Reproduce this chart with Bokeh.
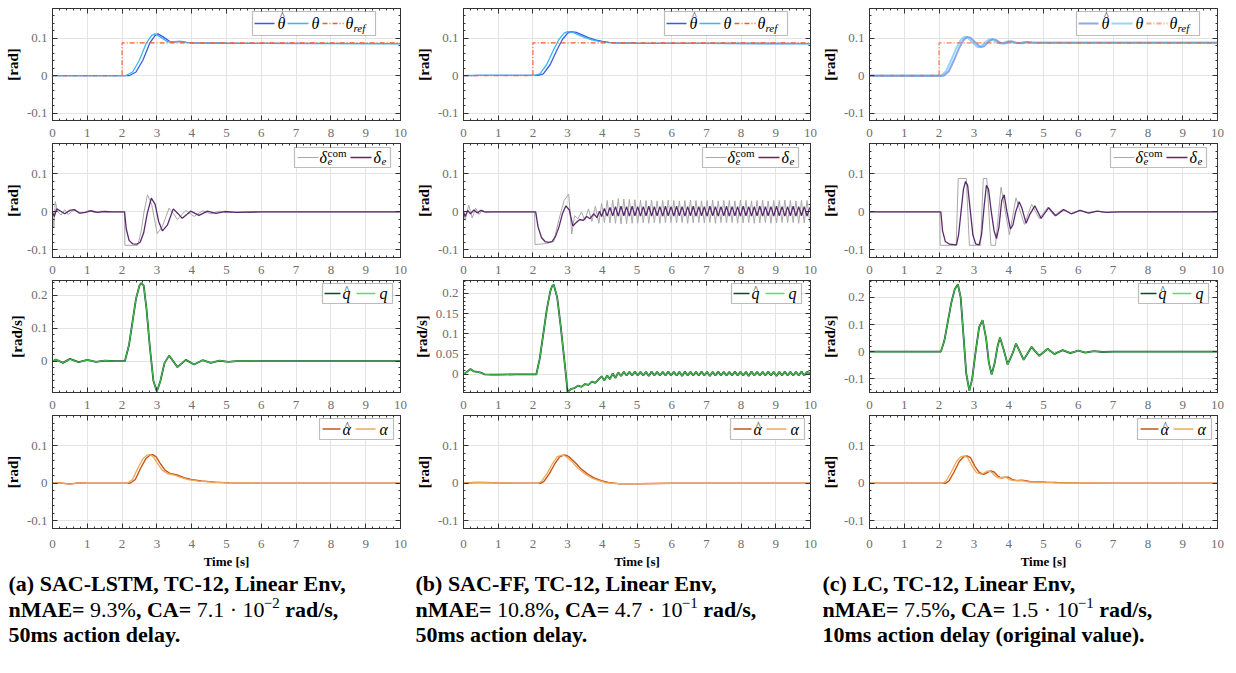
from bokeh.plotting import figure
from bokeh.models import FixedTicker, LinearAxis, Range1d, BoxAnnotation, Label, Arrow
from bokeh.layouts import column, row
from bokeh.embed import file_html
from bokeh.resources import INLINE

# ---------------- DATA ----------------
X_TICKS = [0, 1, 2, 3, 4, 5, 6, 7, 8, 9, 10]
X_TICK_LABELS = ["0", "1", "2", "3", "4", "5", "6", "7", "8", "9", "10"]

Y_TICKS_RAD = [-0.1, 0, 0.1]
Y_LABELS_RAD = ["-0.1", "0", "0.1"]
Y_TICKS_Q_A = [0, 0.1, 0.2]
Y_LABELS_Q_A = ["0", "0.1", "0.2"]
Y_TICKS_Q_B = [0, 0.05, 0.1, 0.15, 0.2]
Y_LABELS_Q_B = ["0", "0.05", "0.1", "0.15", "0.2"]
Y_TICKS_Q_C = [-0.1, 0, 0.1, 0.2]
Y_LABELS_Q_C = ["-0.1", "0", "0.1", "0.2"]

# --- row 1: pitch angle theta ---
T_REF = [0, 2.0, 2.0, 10]
THREF = [0, 0, 0.088, 0.088]

T_TH_A = [0, 2.1, 2.3, 2.5, 2.7, 2.85, 2.95, 3.1, 3.3, 3.5, 3.65, 3.8, 4.0, 5.0, 10]
TH_A = [0, 0, 0.01, 0.042, 0.088, 0.108, 0.112, 0.104, 0.091, 0.091, 0.092, 0.089, 0.088, 0.087, 0.086]
T_THH_A = [0, 2.2, 2.4, 2.6, 2.8, 2.95, 3.03, 3.18, 3.38, 3.55, 3.68, 3.85, 4.05, 5.0, 10]
THH_A = [0, 0, 0.01, 0.042, 0.088, 0.108, 0.112, 0.104, 0.091, 0.091, 0.092, 0.089, 0.088, 0.087, 0.086]

T_TH_B = [0, 0.5, 1.5, 2.05, 2.2, 2.4, 2.6, 2.75, 2.9, 3.0, 3.15, 3.3, 3.5, 3.7, 3.9, 4.1, 4.3, 5.0, 10]
TH_B = [0, 0.001, 0.001, 0.001, 0.005, 0.03, 0.07, 0.097, 0.114, 0.118, 0.116, 0.11, 0.102, 0.096, 0.092, 0.089, 0.088, 0.087, 0.086]
T_THH_B = [0, 0.5, 1.5, 2.15, 2.3, 2.5, 2.7, 2.85, 3.0, 3.1, 3.25, 3.4, 3.6, 3.8, 4.0, 4.2, 4.4, 5.0, 10]
THH_B = [0, 0.001, 0.001, 0.001, 0.005, 0.03, 0.07, 0.097, 0.114, 0.118, 0.116, 0.11, 0.102, 0.096, 0.092, 0.089, 0.088, 0.087, 0.086]

T_TH_C = [0, 2.05, 2.2, 2.35, 2.5, 2.62, 2.72, 2.82, 2.95, 3.1, 3.2, 3.32, 3.45, 3.55, 3.68, 3.8, 3.92, 4.02, 4.15, 4.3, 4.45, 4.6, 4.8, 5.0, 10]
TH_C = [0, 0, 0.012, 0.042, 0.075, 0.095, 0.104, 0.102, 0.09, 0.077, 0.078, 0.089, 0.098, 0.096, 0.088, 0.086, 0.091, 0.092, 0.088, 0.087, 0.09, 0.089, 0.088, 0.088, 0.088]
T_THH_C = [0, 2.13, 2.28, 2.43, 2.58, 2.7, 2.8, 2.9, 3.03, 3.18, 3.28, 3.4, 3.53, 3.63, 3.76, 3.88, 4.0, 4.1, 4.23, 4.38, 4.53, 4.68, 4.88, 5.08, 10]
THH_C = [0, 0, 0.012, 0.042, 0.075, 0.095, 0.104, 0.102, 0.09, 0.077, 0.078, 0.089, 0.098, 0.096, 0.088, 0.086, 0.091, 0.092, 0.088, 0.087, 0.09, 0.089, 0.088, 0.088, 0.088]

# --- row 2: elevator command and deflection ---
T_DC_A = [0, 0.04, 0.08, 0.15, 0.25, 0.35, 0.45, 0.55, 0.65, 0.75, 0.9, 1.05, 1.2, 1.4, 1.6, 2.07, 2.08, 2.45, 2.55, 2.63, 2.73, 2.85, 3.01, 3.15, 3.35, 3.47, 3.59, 3.83, 4.07, 4.31, 4.55, 4.8, 5.05, 5.5, 10]
DC_A = [0, -0.04, 0.027, 0.0, -0.008, 0.006, -0.007, 0.001, 0.007, -0.004, -0.002, 0.004, -0.002, 0.002, 0, 0, -0.088, -0.088, -0.05, 0.0, 0.045, 0.02, -0.057, -0.04, 0.01, -0.004, -0.02, 0.004, -0.012, 0.003, -0.005, 0.002, -0.002, 0, 0]
T_DE_A = [0, 0.05, 0.12, 0.25, 0.35, 0.5, 0.62, 0.78, 0.95, 1.1, 1.3, 1.5, 1.7, 2.07, 2.12, 2.2, 2.3, 2.42, 2.52, 2.62, 2.72, 2.84, 2.95, 3.05, 3.16, 3.3, 3.47, 3.6, 3.73, 3.97, 4.21, 4.45, 4.69, 4.95, 5.3, 6.0, 10]
DE_A = [0, -0.012, 0.008, 0.001, -0.005, 0.004, 0.006, -0.003, -0.001, 0.003, -0.001, 0.001, 0, 0, -0.045, -0.075, -0.084, -0.085, -0.08, -0.055, -0.005, 0.036, 0.02, -0.025, -0.05, -0.035, 0.008, -0.004, -0.017, 0.002, -0.009, 0.002, -0.004, 0.001, -0.001, 0, 0]

T_OSC_B = [3.98, 4.06, 4.14, 4.22, 4.30, 4.38, 4.46, 4.54, 4.62, 4.70, 4.78, 4.86, 4.94, 5.02, 5.10, 5.18,
           5.26, 5.34, 5.42, 5.50, 5.58, 5.66, 5.74, 5.82, 5.90, 5.98, 6.06, 6.14, 6.22, 6.30, 6.38, 6.46,
           6.54, 6.62, 6.70, 6.78, 6.86, 6.94, 7.02, 7.10, 7.18, 7.26, 7.34, 7.42, 7.50, 7.58, 7.66, 7.74,
           7.82, 7.90, 7.98, 8.06, 8.14, 8.22, 8.30, 8.38, 8.46, 8.54, 8.62, 8.70, 8.78, 8.86, 8.94, 9.02,
           9.10, 9.18, 9.26, 9.34, 9.42, 9.50, 9.58, 9.66, 9.74, 9.82, 9.90, 9.98]
T_DC_B0 = [0, 0.05, 0.15, 0.25, 0.35, 0.45, 0.55, 0.65, 0.8, 2.05, 2.06, 2.4, 2.6, 2.75, 2.9, 3.03, 3.12, 3.2, 3.3, 3.4, 3.5, 3.6, 3.7, 3.8, 3.9]
DC_B0 = [0, -0.022, 0.018, -0.016, 0.01, -0.007, 0.005, -0.002, 0, 0, -0.086, -0.083, -0.078, -0.02, 0.03, 0.047, -0.058, -0.01, -0.018, 0.0, -0.022, 0.008, -0.025, 0.015, -0.03]
DC_B1 = [0.022, -0.028, 0.03, -0.029, 0.031, -0.03, 0.035, -0.032, 0.034, -0.031, 0.033, -0.03, 0.032, -0.03, 0.031, -0.029,
         0.03, -0.03, 0.031, -0.028, 0.029, -0.03, 0.03, -0.029, 0.031, -0.028, 0.03, -0.029, 0.029, -0.028, 0.03, -0.03,
         0.031, -0.029, 0.03, -0.028, 0.029, -0.029, 0.03, -0.028, 0.031, -0.03, 0.029, -0.028, 0.03, -0.029, 0.03, -0.028,
         0.029, -0.03, 0.031, -0.029, 0.03, -0.028, 0.029, -0.03, 0.03, -0.029, 0.031, -0.028, 0.029, -0.03, 0.03, -0.029,
         0.03, -0.028, 0.031, -0.029, 0.03, -0.028, 0.029, -0.03, 0.03, -0.029, 0.03, -0.028]
T_DE_B0 = [0, 0.05, 0.12, 0.2, 0.3, 0.4, 0.5, 0.6, 1.0, 2.08, 2.15, 2.25, 2.35, 2.45, 2.55, 2.65, 2.75, 2.85, 2.95, 3.05, 3.15, 3.25, 3.35, 3.45, 3.55, 3.65, 3.75, 3.85, 3.92]
DE_B0 = [0, -0.012, 0.004, -0.005, 0.005, -0.003, 0.004, 0, 0, 0, -0.04, -0.068, -0.078, -0.08, -0.078, -0.065, -0.04, -0.005, 0.016, 0.005, -0.037, -0.028, -0.02, -0.022, -0.012, -0.018, -0.005, -0.015, 0.002]
DE_B1 = [-0.012, 0.009, -0.011, 0.012, -0.01, 0.014, -0.011, 0.015, -0.01, 0.014, -0.011, 0.015, -0.01, 0.014, -0.011, 0.014,
         -0.01, 0.015, -0.011, 0.014, -0.01, 0.014, -0.011, 0.015, -0.01, 0.014, -0.011, 0.015, -0.01, 0.014, -0.011, 0.014,
         -0.01, 0.015, -0.011, 0.014, -0.01, 0.014, -0.011, 0.015, -0.01, 0.014, -0.011, 0.014, -0.01, 0.015, -0.011, 0.014,
         -0.01, 0.014, -0.011, 0.015, -0.01, 0.014, -0.011, 0.014, -0.01, 0.015, -0.011, 0.014, -0.01, 0.014, -0.011, 0.015,
         -0.01, 0.014, -0.011, 0.014, -0.01, 0.015, -0.011, 0.014, -0.01, 0.014, -0.011, 0.012]

T_DC_C = [0, 2.02, 2.03, 2.49, 2.55, 2.78, 2.87, 3.19, 3.27, 3.37, 3.49, 3.62, 3.78, 4.02, 4.21, 4.45, 4.66, 4.88, 5.12, 5.31, 5.55, 5.79, 6.03, 6.27, 6.5, 6.75, 7.0, 10]
DC_C = [0, 0, -0.088, -0.088, 0.088, 0.088, -0.088, -0.088, 0.088, 0.088, -0.088, -0.088, 0.065, -0.06, 0.037, -0.033, 0.02, -0.018, 0.012, -0.01, 0.007, -0.005, 0.004, -0.002, 0.002, -0.001, 0, 0]
T_DE_C = [0, 2.05, 2.1, 2.18, 2.3, 2.5, 2.56, 2.63, 2.7, 2.76, 2.82, 2.9, 2.97, 3.05, 3.15, 3.22, 3.3, 3.36, 3.42, 3.5, 3.58, 3.65, 3.72, 3.8, 3.87, 3.95, 4.05, 4.12, 4.2, 4.3, 4.38, 4.5, 4.6, 4.75, 4.93, 5.15, 5.35, 5.58, 5.8, 6.05, 6.3, 6.55, 6.8, 7.2, 10]
DE_C = [0, 0, -0.05, -0.078, -0.085, -0.087, -0.06, 0.0, 0.06, 0.08, 0.07, 0.0, -0.06, -0.084, -0.087, -0.06, 0.02, 0.07, 0.06, 0.0, -0.05, -0.07, -0.04, 0.03, 0.045, 0.0, -0.045, -0.035, 0.0, 0.027, 0.01, -0.03, -0.008, 0.016, -0.017, 0.011, -0.01, 0.006, -0.005, 0.004, -0.003, 0.002, -0.001, 0, 0]

# --- row 3: pitch rate q ---
T_Q_A = [0, 0.1, 0.3, 0.5, 0.75, 1.0, 1.25, 1.5, 1.8, 2.08, 2.2, 2.3, 2.4, 2.5, 2.55, 2.62, 2.7, 2.8, 2.9, 3.0, 3.1, 3.22, 3.35, 3.47, 3.59, 3.83, 4.07, 4.31, 4.55, 4.8, 5.05, 5.35, 6.0, 10]
Q_A = [0, 0.005, -0.005, 0.007, -0.003, 0.004, -0.002, 0.002, 0, 0, 0.05, 0.12, 0.19, 0.23, 0.237, 0.23, 0.16, 0.04, -0.06, -0.092, -0.06, -0.005, 0.017, 0.0, -0.018, 0.004, -0.01, 0.003, -0.005, 0.002, -0.002, 0.001, 0, 0]
QH_A = [0, 0.005, -0.005, 0.007, -0.003, 0.004, -0.002, 0.002, 0, 0, 0.05, 0.12, 0.19, 0.23, 0.237, 0.23, 0.16, 0.04, -0.06, -0.092, -0.06, -0.005, 0.017, 0.0, -0.018, 0.004, -0.01, 0.003, -0.005, 0.002, -0.002, 0.001, 0, 0]

T_Q_B0 = [0, 0.1, 0.2, 0.3, 0.4, 0.5, 0.6, 0.8, 1.0, 1.5, 2.1, 2.2, 2.3, 2.4, 2.5, 2.55, 2.6, 2.7, 2.8, 2.9, 2.95, 3.0, 3.1, 3.2, 3.3, 3.4, 3.5, 3.6, 3.7, 3.8, 3.9]
Q_B0 = [0, 0.006, 0.013, 0.007, 0.006, 0.004, 0, -0.001, -0.001, 0, 0, 0.04, 0.1, 0.16, 0.205, 0.218, 0.222, 0.19, 0.12, 0.04, 0.0, -0.044, -0.036, -0.034, -0.028, -0.031, -0.024, -0.026, -0.018, -0.021, -0.012]
Q_B1 = [-0.005, -0.015, -0.003, -0.012, 0.002, -0.009, 0.005, -0.004, 0.006, -0.003, 0.006, -0.003, 0.007, -0.003, 0.006, -0.003,
        0.006, -0.004, 0.007, -0.003, 0.006, -0.003, 0.006, -0.003, 0.007, -0.003, 0.006, -0.003, 0.006, -0.004, 0.007, -0.003,
        0.006, -0.003, 0.006, -0.003, 0.007, -0.003, 0.006, -0.004, 0.006, -0.003, 0.007, -0.003, 0.006, -0.003, 0.006, -0.003,
        0.007, -0.003, 0.006, -0.003, 0.006, -0.004, 0.007, -0.003, 0.006, -0.003, 0.006, -0.003, 0.007, -0.003, 0.006, -0.004,
        0.006, -0.003, 0.007, -0.003, 0.006, -0.003, 0.006, -0.003, 0.007, -0.003, 0.006, 0.003]

T_Q_C = [0, 2.05, 2.15, 2.25, 2.35, 2.45, 2.54, 2.62, 2.7, 2.78, 2.87, 2.95, 3.05, 3.15, 3.25, 3.35, 3.43, 3.51, 3.6, 3.68, 3.75, 3.85, 3.97, 4.1, 4.21, 4.32, 4.43, 4.55, 4.66, 4.77, 4.88, 5.0, 5.12, 5.31, 5.55, 5.77, 6.0, 6.2, 6.45, 6.7, 7.0, 10]
Q_C = [0, 0, 0.04, 0.11, 0.18, 0.23, 0.248, 0.2, 0.06, -0.08, -0.144, -0.1, 0.0, 0.09, 0.116, 0.05, -0.04, -0.084, -0.04, 0.02, 0.052, 0.01, -0.047, -0.01, 0.03, 0.0, -0.03, -0.005, 0.018, 0.0, -0.015, -0.002, 0.011, -0.009, 0.006, -0.005, 0.004, -0.003, 0.002, -0.001, 0, 0]
QH_C = [0, 0, 0.04, 0.11, 0.18, 0.23, 0.248, 0.2, 0.06, -0.08, -0.144, -0.1, 0.0, 0.09, 0.116, 0.05, -0.04, -0.084, -0.04, 0.02, 0.052, 0.01, -0.047, -0.01, 0.03, 0.0, -0.03, -0.005, 0.018, 0.0, -0.015, -0.002, 0.011, -0.009, 0.006, -0.005, 0.004, -0.003, 0.002, -0.001, 0, 0]

# --- row 4: angle of attack alpha ---
T_AL_A = [0, 0.2, 0.5, 0.75, 1.0, 2.15, 2.3, 2.45, 2.6, 2.72, 2.8, 2.9, 3.0, 3.15, 3.3, 3.5, 3.7, 3.9, 4.2, 4.6, 5.0, 6.0, 10]
AL_A = [0, 0.001, -0.002, 0.001, 0, 0, 0.01, 0.04, 0.065, 0.075, 0.076, 0.07, 0.055, 0.035, 0.026, 0.022, 0.015, 0.01, 0.006, 0.003, 0.001, 0, 0]
T_ALH_A = [0, 0.2, 0.5, 0.75, 1.0, 2.23, 2.38, 2.53, 2.68, 2.8, 2.88, 2.98, 3.08, 3.23, 3.38, 3.58, 3.78, 3.98, 4.28, 4.68, 5.08, 6.0, 10]
ALH_A = [0, 0.001, -0.002, 0.001, 0, 0, 0.01, 0.04, 0.065, 0.075, 0.076, 0.07, 0.055, 0.035, 0.026, 0.022, 0.015, 0.01, 0.006, 0.003, 0.001, 0, 0]

T_AL_B = [0, 0.3, 0.6, 1.0, 1.5, 2.15, 2.25, 2.4, 2.55, 2.7, 2.82, 2.9, 3.0, 3.15, 3.3, 3.5, 3.7, 3.9, 4.1, 4.4, 5.0, 6.0, 10]
AL_B = [0, 0.002, 0.002, 0.001, 0, 0, 0.005, 0.025, 0.05, 0.07, 0.075, 0.074, 0.068, 0.055, 0.04, 0.025, 0.014, 0.007, 0.002, -0.001, -0.001, 0, 0]
T_ALH_B = [0, 0.3, 0.6, 1.0, 1.5, 2.22, 2.32, 2.47, 2.62, 2.77, 2.89, 2.97, 3.07, 3.22, 3.37, 3.57, 3.77, 3.97, 4.17, 4.47, 5.07, 6.0, 10]
ALH_B = [0, 0.002, 0.002, 0.001, 0, 0, 0.005, 0.025, 0.05, 0.07, 0.075, 0.074, 0.068, 0.055, 0.04, 0.025, 0.014, 0.007, 0.002, -0.001, -0.001, 0, 0]

T_AL_C = [0, 2.1, 2.2, 2.35, 2.5, 2.62, 2.72, 2.82, 2.95, 3.08, 3.2, 3.3, 3.4, 3.5, 3.6, 3.7, 3.82, 3.92, 4.02, 4.15, 4.3, 4.4, 4.55, 4.75, 5.0, 5.3, 6.0, 7.0, 10]
AL_C = [0, 0, 0.006, 0.03, 0.058, 0.07, 0.073, 0.068, 0.045, 0.028, 0.024, 0.028, 0.033, 0.03, 0.02, 0.014, 0.016, 0.016, 0.01, 0.007, 0.008, 0.007, 0.004, 0.004, 0.003, 0.002, 0.001, 0, 0]
T_ALH_C = [0, 2.18, 2.28, 2.43, 2.58, 2.7, 2.8, 2.9, 3.03, 3.16, 3.28, 3.38, 3.48, 3.58, 3.68, 3.78, 3.9, 4.0, 4.1, 4.23, 4.38, 4.48, 4.63, 4.83, 5.08, 5.38, 6.0, 7.0, 10]
ALH_C = [0, 0, 0.006, 0.03, 0.058, 0.07, 0.073, 0.068, 0.045, 0.028, 0.024, 0.028, 0.033, 0.03, 0.02, 0.014, 0.016, 0.016, 0.01, 0.007, 0.008, 0.007, 0.004, 0.004, 0.003, 0.002, 0.001, 0, 0]

# captions: line 1 and line 3 plain bold, line 2 split into (text, kind) pieces
CAPTION_L1 = ["(a) SAC-LSTM, TC-12, Linear Env,", "(b) SAC-FF, TC-12, Linear Env,", "(c) LC, TC-12, Linear Env,"]
CAPTION_L2 = [
    [("nMAE= ", "b"), ("9.3%", "r"), (", CA= ", "b"), ("7.1 · 10", "r"), ("−2", "sup"), (" rad/s,", "b")],
    [("nMAE= ", "b"), ("10.8%", "r"), (", CA= ", "b"), ("4.7 · 10", "r"), ("−1", "sup"), (" rad/s,", "b")],
    [("nMAE= ", "b"), ("7.5%", "r"), (", CA= ", "b"), ("1.5 · 10", "r"), ("−1", "sup"), (" rad/s,", "b")],
]
CAPTION_L3 = ["50ms action delay.", "50ms action delay.", "10ms action delay (original value)."]

# ---------------- STYLE ----------------
SERIF = "Liberation Serif"
TICK_COL = "#6e6e6e"
FRAME_COL = "#333333"
GRID_COL = "#e4e4e4"
C_THH, C_TH, C_REF = "#3b5bdb", "#3cb4f5", "#ff5722"
C_DC, C_DE = "#a8a8a8", "#5b2a6e"
C_QH, C_Q = "#0f4a2c", "#4cc74c"
C_QL = "#5ee05e"
C_ALH, C_AL = "#c4561a", "#f0a856"

COLS = [dict(ml=52, fw=348, mr=10), dict(ml=52, fw=348, mr=8), dict(ml=50, fw=349, mr=11)]
ROWS = [dict(fh=112, mt=8, mb=23), dict(fh=114, mt=0, mb=23), dict(fh=112, mt=0, mb=23), dict(fh=113, mt=0, mb=44)]

# Times-compatible advance widths (per 1000 em) used to place caption pieces side by side
W_BOLD = {"n": 556, "M": 944, "A": 722, "E": 667, "=": 570, " ": 250, ",": 250, "C": 722,
          "r": 444, "a": 500, "d": 556, "/": 278, "s": 389}
W_REG = {" ": 250, ".": 250, "%": 833, "·": 250, "−": 564}


def text_width(txt, table, size):
    return sum(table.get(ch, 500) for ch in txt) * size / 1000.0


def grid_steps(lo, hi, step):
    n = int(round((hi - lo) / step))
    return [round(lo + i * step, 5) for i in range(n + 1)]


def style_axis(ax, ticker, labels, show, standoff):
    ax.ticker = ticker
    ax.major_tick_in = 5
    ax.major_tick_out = 0
    ax.minor_tick_in = 2
    ax.minor_tick_out = 0
    ax.major_tick_line_color = FRAME_COL
    ax.minor_tick_line_color = FRAME_COL
    ax.axis_line_color = FRAME_COL
    if show:
        ax.major_label_overrides = labels
        ax.major_label_text_font = SERIF
        ax.major_label_text_font_size = "13px"
        ax.major_label_text_color = TICK_COL
        ax.major_label_standoff = standoff
    else:
        ax.major_label_text_font_size = "0px"
        ax.major_label_text_color = None
        ax.major_label_standoff = 0


def add_legend(p, fw, fh, box, samples, texts):
    right_off, top_off, bw, bh = box
    x0 = fw - right_off - bw
    ytop = fh - top_off
    ymid = ytop - bh / 2.0
    p.add_layout(BoxAnnotation(left=x0, right=x0 + bw, top=ytop, bottom=ytop - bh,
                               left_units="screen", right_units="screen",
                               top_units="screen", bottom_units="screen",
                               fill_color="white", fill_alpha=1.0,
                               line_color="#262626", line_width=1.2, level="annotation"))
    for (a, b, color, width, dash, alpha) in samples:
        p.add_layout(Arrow(x_start=x0 + a, y_start=ymid, x_end=x0 + b, y_end=ymid,
                           start_units="screen", end_units="screen", start=None, end=None,
                           line_color=color, line_width=width, line_dash=dash, line_alpha=alpha))
    for (dx, dy, txt, size, style) in texts:
        p.add_layout(Label(x=x0 + dx, y=ymid + dy, x_units="screen", y_units="screen", text=txt,
                           text_font=SERIF, text_font_size=size, text_font_style=style,
                           text_baseline="middle", text_color="black"))


def panel(ci, ri, yr, yticks, ylabels, ylabel, minor_step, lines, legend):
    c, r = COLS[ci], ROWS[ri]
    p = figure(width=c["ml"] + c["fw"] + c["mr"], height=r["mt"] + r["fh"] + r["mb"],
               min_border_left=c["ml"], min_border_right=c["mr"],
               min_border_top=r["mt"], min_border_bottom=r["mb"],
               x_range=Range1d(0, 10), y_range=Range1d(yr[0], yr[1]),
               tools="", toolbar_location=None, output_backend="svg")
    p.background_fill_color = "white"
    p.border_fill_color = "white"
    p.outline_line_color = FRAME_COL
    p.outline_line_width = 1

    xt = FixedTicker(ticks=X_TICKS, minor_ticks=grid_steps(0, 10, 0.2))
    yt = FixedTicker(ticks=yticks, minor_ticks=grid_steps(-0.2, 0.3, minor_step))
    xlab = {float(v): s for v, s in zip(X_TICKS, X_TICK_LABELS)}
    ylab = {float(v): s for v, s in zip(yticks, ylabels)}

    style_axis(p.xaxis[0], xt, xlab, True, 11 if ri == 3 else 8)
    style_axis(p.yaxis[0], yt, ylab, True, 5)
    p.yaxis[0].axis_label = ylabel
    p.yaxis[0].axis_label_text_font = SERIF
    p.yaxis[0].axis_label_text_font_style = "bold"
    p.yaxis[0].axis_label_text_font_size = "15px"
    p.yaxis[0].axis_label_text_color = "black"
    p.yaxis[0].axis_label_standoff = 3
    if ri == 3:
        p.xaxis[0].axis_label = "Time [s]"
        p.xaxis[0].axis_label_text_font = SERIF
        p.xaxis[0].axis_label_text_font_style = "bold"
        p.xaxis[0].axis_label_text_font_size = "13px"
        p.xaxis[0].axis_label_text_color = "black"
        p.xaxis[0].axis_label_standoff = 3

    top = LinearAxis()
    style_axis(top, xt, None, False, 0)
    p.add_layout(top, "above")
    right = LinearAxis()
    style_axis(right, yt, None, False, 0)
    p.add_layout(right, "right")

    p.xgrid.ticker = xt
    p.ygrid.ticker = yt
    p.xgrid.grid_line_color = GRID_COL
    p.ygrid.grid_line_color = GRID_COL

    for (t, v, color, width, dash, alpha) in lines:
        p.line(x=t, y=v, line_color=color, line_width=width, line_dash=dash, line_alpha=alpha)

    add_legend(p, c["fw"], r["fh"], *legend)
    return p


def leg_theta(right_off, w, alpha):
    return ((right_off, 3, 123, 24),
            [(2, 22, C_THH, w, "solid", alpha), (35, 56, C_TH, w, "solid", alpha), (70, 91, C_REF, w, "5 2 1 2", alpha)],
            [(25, 0, "θ", "16px", "italic"), (27.5, 8, "^", "10px", "normal"),
             (59, 0, "θ", "16px", "italic"),
             (93, 0, "θ", "16px", "italic"), (101, -4, "ref", "11px", "italic")])


def leg_delta(right_off):
    return ((right_off, 4, 96, 20),
            [(3, 24, C_DC, 1, "solid", 1.0), (56, 77, C_DE, 1.3, "solid", 1.0)],
            [(25, 0, "δ", "16px", "italic"), (33, 5, "com", "11px", "normal"), (33, -4, "e", "11px", "italic"),
             (79, 0, "δ", "16px", "italic"), (87, -4, "e", "11px", "italic")])


def leg_q(right_off):
    return ((right_off, 3, 70, 20),
            [(2, 18, C_QH, 1.5, "solid", 1.0), (34, 53, C_QL, 1.5, "solid", 1.0)],
            [(20, 0, "q", "16px", "italic"), (22, 4, "^", "10px", "normal"), (57, 0, "q", "16px", "italic")])


def leg_alpha(right_off):
    return ((right_off, 3, 74, 21),
            [(3, 21, C_ALH, 1.5, "solid", 1.0), (36, 56, C_AL, 1.5, "solid", 1.0)],
            [(23, 0, "α", "16px", "italic"), (25.5, 4, "^", "10px", "normal"), (60, 0, "α", "16px", "italic")])


YR_RAD = (-0.12, 0.18)

cols = []
# ---- column (a) ----
a1 = panel(0, 0, YR_RAD, Y_TICKS_RAD, Y_LABELS_RAD, "[rad]", 0.02,
           [(T_THH_A, THH_A, C_THH, 1.3, "solid", 1.0), (T_TH_A, TH_A, C_TH, 1.3, "solid", 1.0),
            (T_REF, THREF, C_REF, 1.1, "5 2 1 2", 1.0)], leg_theta(25, 1.5, 1.0))
a2 = panel(0, 1, YR_RAD, Y_TICKS_RAD, Y_LABELS_RAD, "[rad]", 0.02,
           [(T_DC_A, DC_A, C_DC, 1.0, "solid", 1.0), (T_DE_A, DE_A, C_DE, 1.3, "solid", 1.0)], leg_delta(10))
a3 = panel(0, 2, (-0.095, 0.245), Y_TICKS_Q_A, Y_LABELS_Q_A, "[rad/s]", 0.02,
           [(T_Q_A, QH_A, C_QH, 1.8, "solid", 1.0), (T_Q_A, Q_A, C_Q, 1.1, "solid", 0.9)], leg_q(8))
a4 = panel(0, 3, YR_RAD, Y_TICKS_RAD, Y_LABELS_RAD, "[rad]", 0.02,
           [(T_ALH_A, ALH_A, C_ALH, 1.4, "solid", 1.0), (T_AL_A, AL_A, C_AL, 1.3, "solid", 1.0)], leg_alpha(7))
cols.append(column(a1, a2, a3, a4))

# ---- column (b) ----
b1 = panel(1, 0, YR_RAD, Y_TICKS_RAD, Y_LABELS_RAD, "[rad]", 0.02,
           [(T_THH_B, THH_B, C_THH, 1.3, "solid", 1.0), (T_TH_B, TH_B, C_TH, 1.3, "solid", 1.0),
            (T_REF, THREF, C_REF, 1.1, "5 2 1 2", 1.0)], leg_theta(24, 1.5, 1.0))
b2 = panel(1, 1, YR_RAD, Y_TICKS_RAD, Y_LABELS_RAD, "[rad]", 0.02,
           [(T_DC_B0 + T_OSC_B, DC_B0 + DC_B1, C_DC, 1.0, "solid", 1.0),
            (T_DE_B0 + T_OSC_B, DE_B0 + DE_B1, C_DE, 1.3, "solid", 1.0)], leg_delta(13))
b3 = panel(1, 2, (-0.045, 0.232), Y_TICKS_Q_B, Y_LABELS_Q_B, "[rad/s]", 0.01,
           [(T_Q_B0 + T_OSC_B, Q_B0 + Q_B1, C_QH, 1.8, "solid", 1.0),
            (T_Q_B0 + T_OSC_B, Q_B0 + Q_B1, C_Q, 1.1, "solid", 0.9)], leg_q(10))
b4 = panel(1, 3, YR_RAD, Y_TICKS_RAD, Y_LABELS_RAD, "[rad]", 0.02,
           [(T_ALH_B, ALH_B, C_ALH, 1.4, "solid", 1.0), (T_AL_B, AL_B, C_AL, 1.3, "solid", 1.0)], leg_alpha(7))
cols.append(column(b1, b2, b3, b4))

# ---- column (c) ----
c1 = panel(2, 0, YR_RAD, Y_TICKS_RAD, Y_LABELS_RAD, "[rad]", 0.02,
           [(T_THH_C, THH_C, C_THH, 2.0, "solid", 0.55), (T_TH_C, TH_C, C_TH, 2.0, "solid", 0.55),
            (T_REF, THREF, C_REF, 1.8, "5 2 1 2", 0.55)], leg_theta(19, 2.2, 0.55))
c2 = panel(2, 1, YR_RAD, Y_TICKS_RAD, Y_LABELS_RAD, "[rad]", 0.02,
           [(T_DC_C, DC_C, C_DC, 1.0, "solid", 1.0), (T_DE_C, DE_C, C_DE, 1.3, "solid", 1.0)], leg_delta(12))
c3 = panel(2, 2, (-0.15, 0.262), Y_TICKS_Q_C, Y_LABELS_Q_C, "[rad/s]", 0.02,
           [(T_Q_C, QH_C, C_QH, 1.8, "solid", 1.0), (T_Q_C, Q_C, C_Q, 1.1, "solid", 0.9)], leg_q(10))
c4 = panel(2, 3, YR_RAD, Y_TICKS_RAD, Y_LABELS_RAD, "[rad]", 0.02,
           [(T_ALH_C, ALH_C, C_ALH, 1.4, "solid", 1.0), (T_AL_C, AL_C, C_AL, 1.3, "solid", 1.0)], leg_alpha(7))
cols.append(column(c1, c2, c3, c4))

# ---- captions ----
cap = figure(width=1228, height=76, x_range=Range1d(0, 1228), y_range=Range1d(0, 76),
             x_axis_type=None, y_axis_type=None, min_border=0, tools="", toolbar_location=None,
             output_backend="svg")
cap.outline_line_color = None
cap.background_fill_color = "white"
cap.border_fill_color = "white"
CAP_X = [8, 415, 822]
CAP_Y = [65, 39, 14]
CAP_SIZE = 22


def cap_label(x, y, txt, size, style):
    cap.add_layout(Label(x=x, y=y, text=txt, text_font=SERIF, text_font_size="%gpx" % size,
                         text_font_style=style, text_baseline="middle", text_color="black"))


for cx, l1, l2, l3 in zip(CAP_X, CAPTION_L1, CAPTION_L2, CAPTION_L3):
    cap_label(cx, CAP_Y[0], l1, CAP_SIZE, "bold")
    cap_label(cx, CAP_Y[2], l3, CAP_SIZE, "bold")
    x = cx
    for txt, kind in l2:
        body = txt.lstrip(" ")
        lead = len(txt) - len(body)
        if kind == "b":
            x += lead * W_BOLD[" "] * CAP_SIZE / 1000.0
            cap_label(x, CAP_Y[1], body.rstrip(" "), CAP_SIZE, "bold")
            x += text_width(body, W_BOLD, CAP_SIZE)
        elif kind == "r":
            x += lead * W_REG[" "] * CAP_SIZE / 1000.0
            cap_label(x, CAP_Y[1], body, CAP_SIZE, "normal")
            x += text_width(body, W_REG, CAP_SIZE)
        else:
            cap_label(x + 1, CAP_Y[1] + 7, body, 15, "normal")
            x += text_width(body, W_REG, 15) + 1

layout = column(row(*cols), cap)
open("out.html", "w").write(file_html(layout, INLINE))
